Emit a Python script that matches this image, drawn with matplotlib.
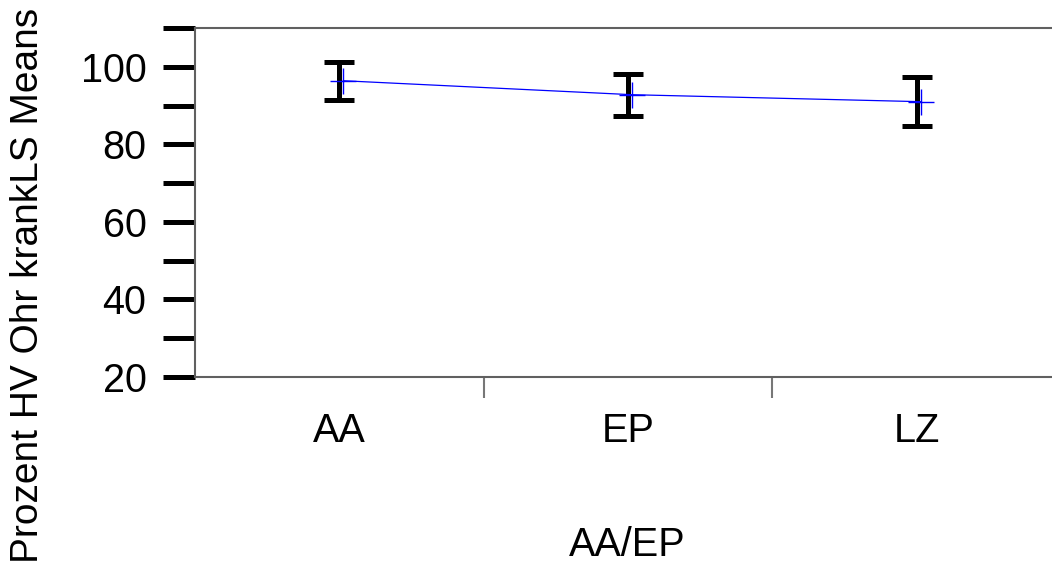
import matplotlib
matplotlib.use("Agg")
import matplotlib.pyplot as plt
import matplotlib.transforms as mtransforms
import numpy as np

plt.rcParams['font.family'] = ['Liberation Sans', 'DejaVu Sans']

groups = ["AA", "EP", "LZ"]
means = [96.4, 92.8, 91.0]
err_half = [4.9, 5.4, 6.4]

fs = 28.5

fig = plt.figure(figsize=(10.52, 5.67), dpi=100)
ax = fig.add_axes([195 / 1052, 190 / 567, 866 / 1052, 349 / 567])

x = np.arange(len(groups))

# error bars (black I-beams)
eb = ax.errorbar(x, means, yerr=err_half, fmt='none', ecolor='black',
                 elinewidth=3.6, capsize=11, capthick=3.6, zorder=3)
for c in eb[1]:
    c.set_solid_capstyle('round')
for lc in eb[2]:
    lc.set_capstyle('round')

# mean line with + markers, nudged a few pixels right
shift = mtransforms.offset_copy(ax.transData, fig=fig, x=4, y=0, units='dots')
ax.plot(x, means, color='blue', lw=0.9, marker='+', markersize=19,
        markeredgewidth=1.0, transform=shift, zorder=4)

ax.set_ylim(20, 110)
ax.set_xlim(-0.5, 2.5)

ax.set_yticks([20, 40, 60, 80, 100])
ax.set_yticks([30, 50, 70, 90, 110], minor=True)
ax.tick_params(axis='y', which='both', direction='out', length=23, width=3.6,
               color='black', labelsize=fs, pad=12)

ax.set_xticks([0.5, 1.5])
ax.set_xticklabels([])
ax.set_xticks(x, minor=True)
ax.set_xticklabels(groups, minor=True)
ax.tick_params(axis='x', which='major', direction='out', length=15, width=1.5,
               color='#777777')
ax.tick_params(axis='x', which='minor', length=0, labelsize=fs, pad=25)

for side in ['left', 'top', 'bottom']:
    ax.spines[side].set_color('#606060')
    ax.spines[side].set_linewidth(1.5)
ax.spines['right'].set_visible(False)

fig.text(627 / 1052, 1 - 545 / 567, "AA/EP", fontsize=fs,
         ha='center', va='center')
fig.text(28 / 1052, 1 - 285 / 567, "Prozent HV Ohr krankLS Means", fontsize=28,
         rotation=90, ha='center', va='center')

fig.savefig("out.png", dpi=100)
